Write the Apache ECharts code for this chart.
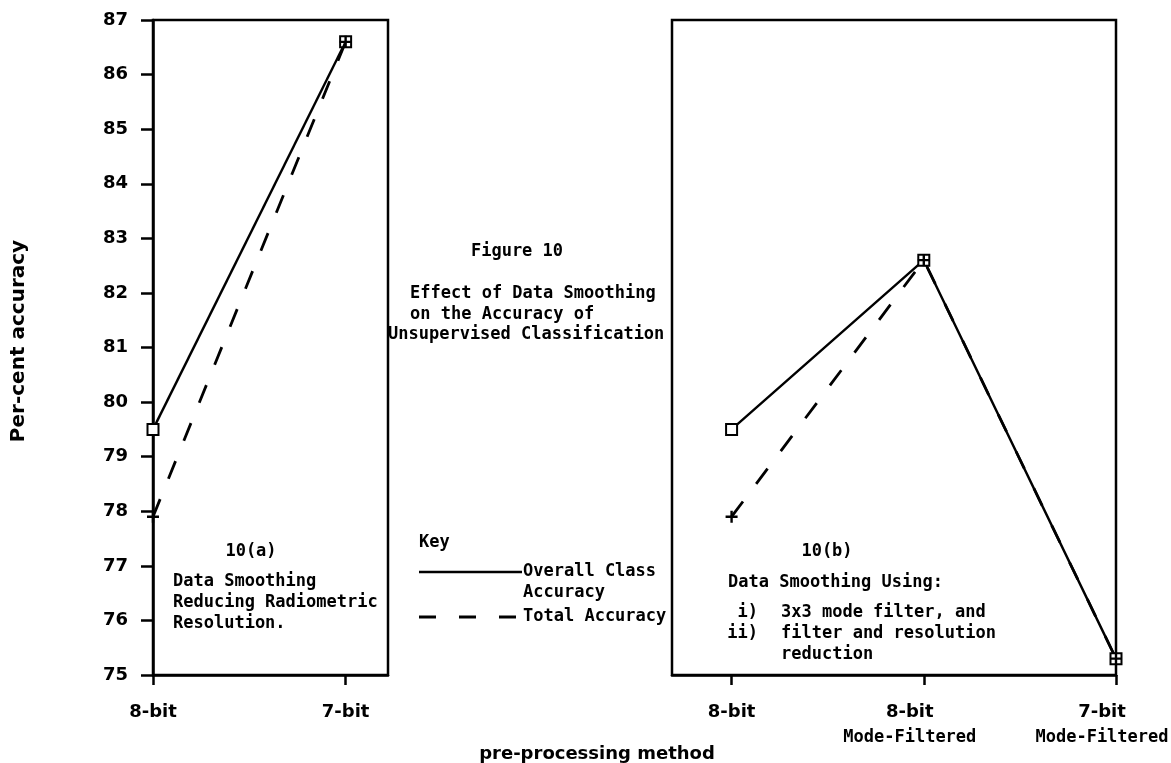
<!DOCTYPE html>
<html>
<head>
<meta charset="utf-8">
<script src="https://cdn.jsdelivr.net/npm/echarts@6/dist/echarts.min.js"></script>
<style>
  html, body { margin: 0; padding: 0; background: #fff; }
  #chart { width: 1171px; height: 763px; }
</style>
</head>
<body>
<div id="chart"></div>
<script>
// Panel (a): reducing radiometric resolution
const categoriesA = ['8-bit', '7-bit'];
const overallA = [79.5, 86.6];
const totalA = [77.9, 86.6];

// Panel (b): mode filtering and resolution reduction
const categoriesB = ['8-bit', '8-bit\nMode-Filtered', '7-bit\nMode-Filtered'];
const overallB = [79.5, 82.6, 75.3];
const totalB = [77.9, 82.6, 75.3];

// Shared accuracy scale (per cent)
const yMin = 75;
const yMax = 87;
const yStep = 1;

const SANS = 'DejaVu Sans';
const MONO = 'DejaVu Sans Mono';
const INK = '#000';
const DASH = [19, 22];

const plusPath = 'path://M4,0H6V10H4ZM0,4H10V6H0Z';

function pairs(values) {
  return values.map((v, i) => [i, v]);
}

// Two-line category names get a shifted block so the long second line stays on the page
function catLabel(list) {
  return function (v) {
    const name = list[Math.round(v)];
    if (name === undefined) return '';
    const parts = name.split('\n');
    if (parts.length === 1) return '{a|' + parts[0] + '}';
    return '{a2|' + parts[0] + '}\n{b2|' + parts[1] + '}';
  };
}

const labelRich = {
  a: { fontFamily: SANS, fontWeight: 'bold', fontSize: 18, color: INK, lineHeight: 26 },
  a2: { fontFamily: SANS, fontWeight: 'bold', fontSize: 18, color: INK, lineHeight: 26, padding: [0, 28, 0, 0] },
  b2: { fontFamily: MONO, fontWeight: 'bold', fontSize: 17, color: INK, lineHeight: 26, padding: [0, 28, 0, 0] }
};

function xAxisFor(gridIndex, list, min, max) {
  const ticks = list.map((_, i) => i);
  return {
    gridIndex: gridIndex,
    type: 'value',
    min: min,
    max: max,
    splitLine: { show: false },
    axisLine: { show: true, onZero: false, lineStyle: { color: INK, width: 2.5 } },
    axisTick: { show: true, customValues: ticks, length: 10, inside: false, lineStyle: { color: INK, width: 2.5 } },
    axisLabel: { customValues: ticks, formatter: catLabel(list), margin: 24, rich: labelRich, color: INK, hideOverlap: false }
  };
}

function overallSeries(xi, data) {
  return {
    type: 'line', xAxisIndex: xi, yAxisIndex: xi,
    data: pairs(data),
    clip: false,
    symbol: 'rect', symbolSize: 11,
    itemStyle: { color: '#fff', borderColor: INK, borderWidth: 2 },
    lineStyle: { color: INK, width: 2.4 },
    z: 3
  };
}

function totalSeries(xi, data) {
  return {
    type: 'line', xAxisIndex: xi, yAxisIndex: xi,
    data: pairs(data),
    clip: false,
    symbol: plusPath, symbolSize: 12,
    itemStyle: { color: INK, borderWidth: 0 },
    lineStyle: { color: INK, width: 2.8, type: DASH },
    z: 4
  };
}

// One text element per line, each centred vertically on its own row
function monoText(x, y, text, align) {
  return text.split('\n').map((line, i) => ({
    type: 'text',
    style: {
      x: x, y: y + i * 21, text: line,
      font: 'bold 17px "' + MONO + '"',
      fill: INK,
      align: align || 'left',
      verticalAlign: 'middle'
    }
  }));
}

const chart = echarts.init(document.getElementById('chart'), null, { renderer: 'canvas' });

const gridBase = {
  top: 20, bottom: 88, show: true, borderColor: INK, borderWidth: 2.5,
  backgroundColor: 'transparent', containLabel: false, outerBoundsMode: 'none'
};

chart.setOption({
  animation: false,
  backgroundColor: '#fff',
  grid: [
    Object.assign({ left: 153, right: 783 }, gridBase),
    Object.assign({ left: 672, right: 55 }, gridBase)
  ],
  xAxis: [
    xAxisFor(0, categoriesA, 0, 1.22),
    xAxisFor(1, categoriesB, -0.31, 2)
  ],
  yAxis: [
    {
      gridIndex: 0, type: 'value', min: yMin, max: yMax, interval: yStep,
      splitLine: { show: false },
      axisLine: { show: true, lineStyle: { color: INK, width: 2.5 } },
      axisTick: { show: true, length: 12, inside: false, lineStyle: { color: INK, width: 2.5 } },
      axisLabel: { fontFamily: SANS, fontWeight: 'bold', fontSize: 18, color: INK, margin: 25 }
    },
    {
      gridIndex: 1, type: 'value', min: yMin, max: yMax, interval: yStep,
      show: false, splitLine: { show: false }
    }
  ],
  series: [
    totalSeries(0, totalA),
    overallSeries(0, overallA),
    totalSeries(1, totalB),
    overallSeries(1, overallB)
  ],
  graphic: [].concat(
    // Figure caption between the panels
    monoText(517, 252, 'Figure 10', 'center'),
    monoText(410, 294, 'Effect of Data Smoothing\non the Accuracy of'),
    monoText(388, 335, 'Unsupervised Classification'),

    // Key
    monoText(419, 543, 'Key'),
    [{ type: 'line', shape: { x1: 419, y1: 572, x2: 522, y2: 572 }, style: { stroke: INK, lineWidth: 2.4 } }],
    monoText(523, 572, 'Overall Class\nAccuracy'),
    [{ type: 'line', shape: { x1: 419, y1: 617, x2: 521, y2: 617 }, style: { stroke: INK, lineWidth: 2.8, lineDash: [17, 23] } }],
    monoText(523, 617, 'Total Accuracy'),

    // Panel notes
    monoText(251, 552, '10(a)', 'center'),
    monoText(173, 582, 'Data Smoothing\nReducing Radiometric\nResolution.'),
    monoText(827, 552, '10(b)', 'center'),
    monoText(728, 583, 'Data Smoothing Using:'),
    monoText(758, 613, 'i)', 'right'),
    monoText(758, 634, 'ii)', 'right'),
    monoText(781, 613, '3x3 mode filter, and'),
    monoText(781, 634, 'filter and resolution\nreduction'),

    // Axis titles
    [{
      type: 'text',
      x: 19, y: 341, rotation: Math.PI / 2,
      style: {
        x: 0, y: 0, text: 'Per-cent accuracy',
        font: 'bold 20px "' + SANS + '"', fill: INK,
        align: 'center', verticalAlign: 'middle'
      }
    },
    {
      type: 'text',
      style: {
        x: 597, y: 754, text: 'pre-processing method',
        font: 'bold 18px "' + SANS + '"', fill: INK,
        align: 'center', verticalAlign: 'middle'
      }
    }]
  )
});
</script>
</body>
</html>
